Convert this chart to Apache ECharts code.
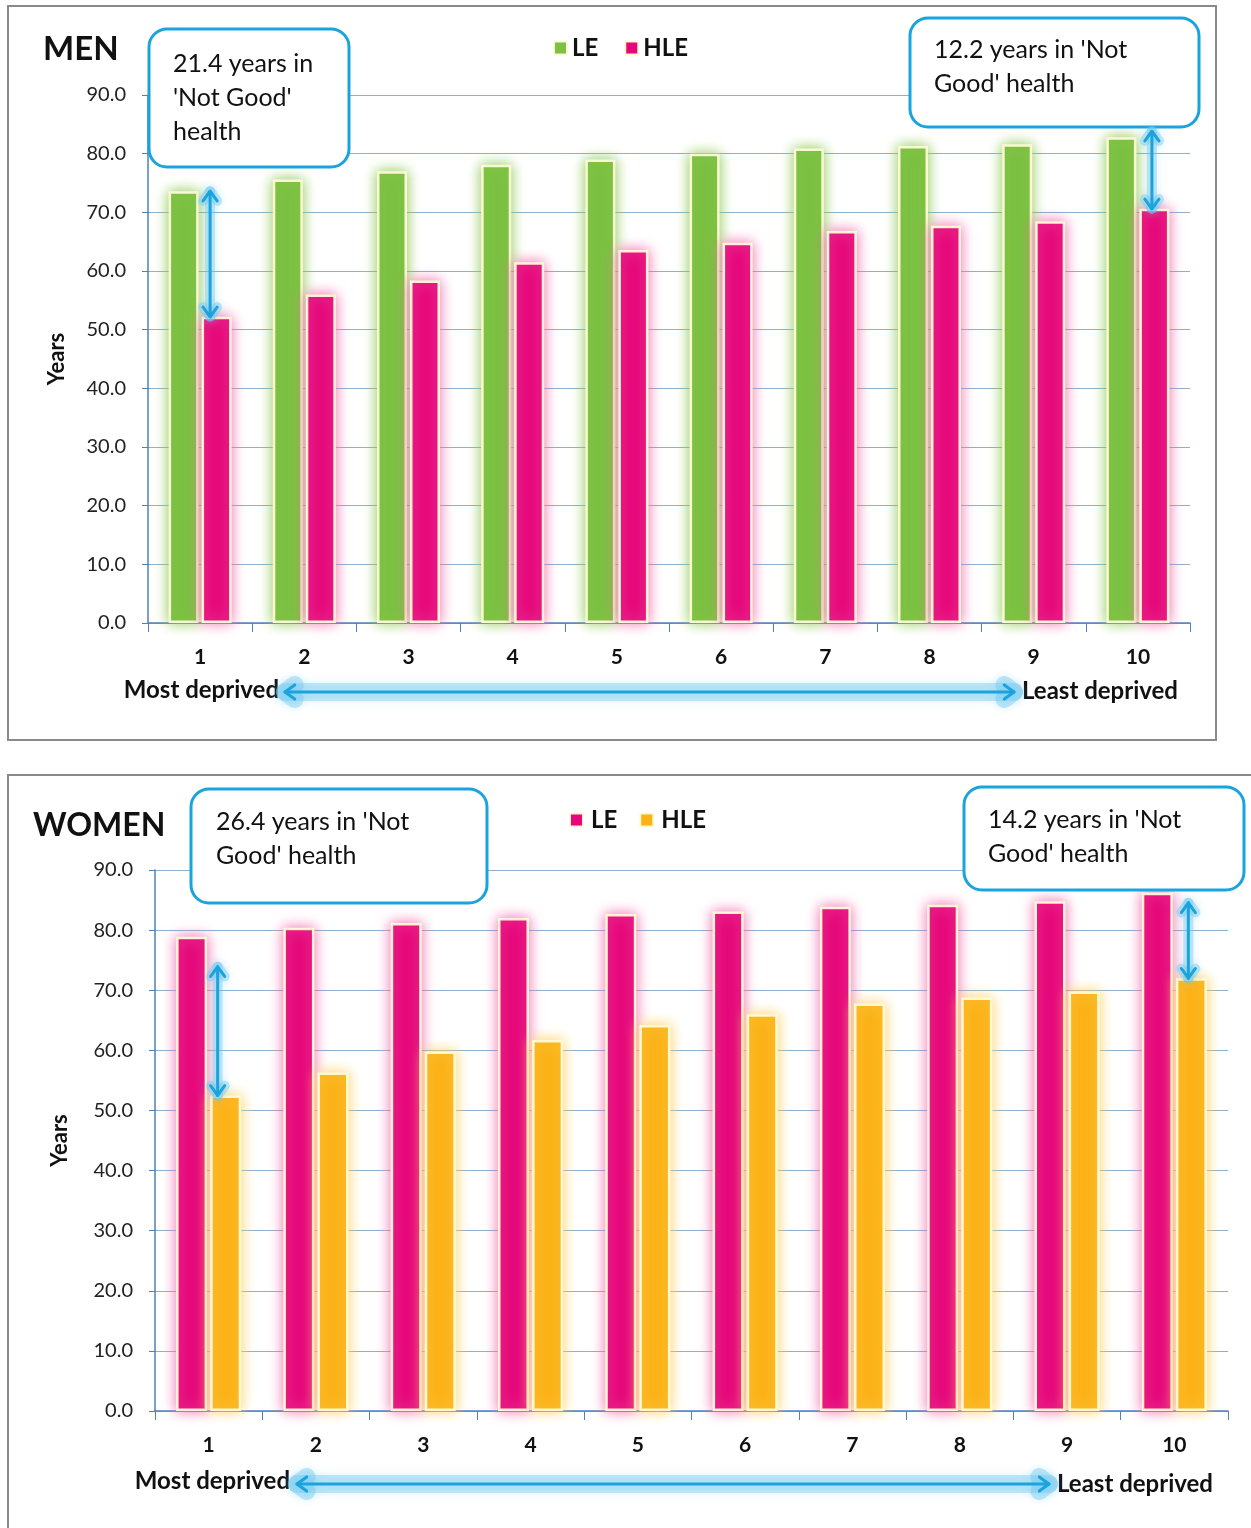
<!DOCTYPE html>
<html>
<head>
<meta charset="utf-8">
<script src="https://cdn.jsdelivr.net/npm/echarts@6/dist/echarts.min.js"></script>
<style>
  html, body { margin: 0; padding: 0; background: #fff; }
  #men { position: absolute; left: 0; top: 0; width: 1251px; height: 760px; }
  #women { position: absolute; left: 0; top: 760px; width: 1251px; height: 768px; }
</style>
</head>
<body>
<div id="men"></div>
<div id="women"></div>
<script>
// deprivation deciles, 1 = most deprived
var deciles = ["1", "2", "3", "4", "5", "6", "7", "8", "9", "10"];
var yTicks = [0, 10, 20, 30, 40, 50, 60, 70, 80, 90];

// men: life expectancy and healthy life expectancy
var menLE = [73.6, 75.6, 77.0, 78.1, 79.0, 80.0, 80.9, 81.3, 81.6, 82.8];
var menHLE = [52.2, 56.0, 58.4, 61.5, 63.6, 64.8, 66.8, 67.7, 68.5, 70.6];

// women
var womenLE = [78.9, 80.4, 81.2, 82.0, 82.7, 83.1, 83.9, 84.2, 84.8, 86.2];
var womenHLE = [52.5, 56.3, 59.8, 61.7, 64.2, 66.0, 67.8, 68.8, 69.8, 72.0];

var FONT = "Lato, 'Open Sans', sans-serif";
var GREEN = "#7cc142", PINK = "#e6077a", ORANGE = "#fbb216";
var BLUE = "#1aa3dc";

function barSeries(name, data, color, glow, width) {
  return {
    name: name,
    type: "bar",
    data: data,
    barWidth: width,
    barGap: "10%",
    itemStyle: {
      color: color,
      borderColor: "rgba(255,250,215,0.95)",
      borderWidth: 2.5,
      shadowBlur: 13,
      shadowColor: glow
    }
  };
}

function arrowEls(x1, y1, x2, y2, glowWidth) {
  var els = [];
  var h = 12, a = Math.PI / 5;
  function head(px, py, qx, qy) {
    var ang = Math.atan2(py - qy, px - qx);
    return [
      [px - h * Math.cos(ang - a), py - h * Math.sin(ang - a)],
      [px, py],
      [px - h * Math.cos(ang + a), py - h * Math.sin(ang + a)]
    ];
  }
  var glow = { stroke: "rgba(110,200,240,0.4)", lineWidth: glowWidth, fill: null, lineCap: "round", lineJoin: "round",
    shadowBlur: 8, shadowColor: "rgba(110,200,240,0.6)" };
  var main = { stroke: BLUE, lineWidth: 3, fill: null, lineCap: "round", lineJoin: "round" };
  [glow, main].forEach(function (st) {
    els.push({ type: "line", z: 120, shape: { x1: x1, y1: y1, x2: x2, y2: y2 }, style: st });
    els.push({ type: "polyline", z: 120, shape: { points: head(x2, y2, x1, y1) }, style: st });
    els.push({ type: "polyline", z: 120, shape: { points: head(x1, y1, x2, y2) }, style: st });
  });
  return els;
}

function box(x, y, w, h, text, tx, ty) {
  return [
    { type: "rect", z: 110, shape: { x: x, y: y, width: w, height: h, r: 18 },
      style: { fill: "#fff", stroke: BLUE, lineWidth: 3 } },
    { type: "text", z: 111, style: { text: text, x: tx, y: ty, font: "25px " + FONT, fill: "#111", lineHeight: 34, verticalAlign: "top" } }
  ];
}

function baseOption(cfg) {
  return {
    animation: false,
    backgroundColor: "#fff",
    title: {
      text: cfg.title, left: cfg.titleLeft, top: cfg.titleTop,
      textStyle: { fontFamily: FONT, fontSize: cfg.titleSize, fontWeight: "bold", color: "#111" }
    },
    legend: {
      left: cfg.legendLeft, top: cfg.legendTop,
      itemWidth: 13, itemHeight: 13, itemGap: cfg.legendGap,
      icon: "rect",
      textStyle: { fontFamily: FONT, fontSize: 24, fontWeight: "bold", color: "#111", padding: [0, 0, 0, cfg.legendPad] },
      data: ["LE", "HLE"]
    },
    grid: cfg.grid,
    xAxis: {
      type: "category",
      data: deciles,
      axisLine: { lineStyle: { color: "#4f81bd", width: 1.5 } },
      axisTick: { show: true, length: 9, lineStyle: { color: "#4f81bd" } },
      axisLabel: { margin: 24, fontFamily: FONT, fontSize: 21, fontWeight: "bold", color: "#111" }
    },
    yAxis: {
      type: "value",
      min: yTicks[0], max: yTicks[yTicks.length - 1], interval: 10,
      name: "Years",
      nameLocation: "middle",
      nameGap: cfg.nameGap,
      nameTextStyle: { fontFamily: FONT, fontSize: 22, fontWeight: "bold", color: "#111" },
      axisLine: { show: true, lineStyle: { color: "#4f81bd", width: 1.5 } },
      axisTick: { show: true, length: 6, lineStyle: { color: "#4f81bd" } },
      axisLabel: {
        margin: 22, fontFamily: FONT, fontSize: 20, color: "#222",
        formatter: function (v) { return v.toFixed(1); }
      },
      splitLine: { lineStyle: { color: "#8eb0cc", width: 1.2 } }
    },
    series: cfg.series
  };
}

// ---------- MEN ----------
var menChart = echarts.init(document.getElementById("men"));
menChart.setOption(baseOption({
  title: "MEN", titleLeft: 38, titleTop: 28, titleSize: 33,
  legendLeft: 548, legendTop: 31, legendGap: 26, legendPad: 0,
  grid: { left: 148, right: 61, top: 95, bottom: 137 },
  nameGap: 80,
  series: [
    barSeries("LE", menLE, GREEN, "rgba(140,200,80,1)", 30),
    barSeries("HLE", menHLE, PINK, "rgba(240,110,175,1)", 30)
  ]
}));

var mg = [];
mg.push({ type: "rect", z: 0, silent: true, shape: { x: 8, y: 6, width: 1208, height: 734 },
  style: { fill: null, stroke: "#8a8a8a", lineWidth: 2 } });
mg = mg.concat(box(149, 29, 200, 138, "21.4 years in\n'Not Good'\nhealth", 173, 47));
mg = mg.concat(box(910, 18, 289, 109, "12.2 years in 'Not\nGood' health", 934, 33));
var m1a = menChart.convertToPixel({ xAxisIndex: 0, yAxisIndex: 0 }, [0, menLE[0]]);
var m1b = menChart.convertToPixel({ xAxisIndex: 0, yAxisIndex: 0 }, [0, menHLE[0]]);
mg = mg.concat(arrowEls(m1a[0] + 10, m1a[1], m1b[0] + 10, m1b[1], 10));
var m10a = menChart.convertToPixel({ xAxisIndex: 0, yAxisIndex: 0 }, [9, menLE[9]]);
var m10b = menChart.convertToPixel({ xAxisIndex: 0, yAxisIndex: 0 }, [9, menHLE[9]]);
mg = mg.concat(arrowEls(m10a[0] + 14, m10a[1] - 6, m10b[0] + 14, m10b[1], 10));
mg = mg.concat(arrowEls(285, 692, 1014, 692, 18));
mg.push({ type: "text", z: 111, style: { text: "Most deprived", x: 279, y: 690, align: "right", verticalAlign: "middle",
  font: "bold 24px " + FONT, fill: "#111" } });
mg.push({ type: "text", z: 111, style: { text: "Least deprived", x: 1022, y: 691, align: "left", verticalAlign: "middle",
  font: "bold 24px " + FONT, fill: "#111" } });
menChart.setOption({ graphic: mg });

// ---------- WOMEN ----------
var womenChart = echarts.init(document.getElementById("women"));
womenChart.setOption(baseOption({
  title: "WOMEN", titleLeft: 28, titleTop: 45, titleSize: 32,
  legendLeft: 564, legendTop: 43, legendGap: 22, legendPad: 3,
  grid: { left: 155, right: 23, top: 110, bottom: 117 },
  nameGap: 84,
  series: [
    barSeries("LE", womenLE, PINK, "rgba(240,110,175,1)", 31),
    barSeries("HLE", womenHLE, ORANGE, "rgba(253,210,100,1)", 31)
  ]
}));

var wg = [];
wg.push({ type: "rect", z: 0, silent: true, shape: { x: 8, y: 15, width: 1300, height: 800 },
  style: { fill: null, stroke: "#8a8a8a", lineWidth: 2 } });
wg = wg.concat(box(191, 29, 296, 114, "26.4 years in 'Not\nGood' health", 216, 45));
wg = wg.concat(box(964, 27, 280, 103, "14.2 years in 'Not\nGood' health", 988, 43));
var w1a = womenChart.convertToPixel({ xAxisIndex: 0, yAxisIndex: 0 }, [0, womenLE[0] - 5]);
var w1b = womenChart.convertToPixel({ xAxisIndex: 0, yAxisIndex: 0 }, [0, womenHLE[0]]);
wg = wg.concat(arrowEls(w1a[0] + 9, w1a[1], w1b[0] + 9, w1b[1], 10));
var w10a = womenChart.convertToPixel({ xAxisIndex: 0, yAxisIndex: 0 }, [9, womenLE[9]]);
var w10b = womenChart.convertToPixel({ xAxisIndex: 0, yAxisIndex: 0 }, [9, womenHLE[9]]);
wg = wg.concat(arrowEls(w10a[0] + 14, w10a[1] + 10, w10b[0] + 14, w10b[1], 10));
wg = wg.concat(arrowEls(297, 724, 1049, 724, 18));
wg.push({ type: "text", z: 111, style: { text: "Most deprived", x: 290, y: 721, align: "right", verticalAlign: "middle",
  font: "bold 24px " + FONT, fill: "#111" } });
wg.push({ type: "text", z: 111, style: { text: "Least deprived", x: 1057, y: 724, align: "left", verticalAlign: "middle",
  font: "bold 24px " + FONT, fill: "#111" } });
womenChart.setOption({ graphic: wg });
</script>
</body>
</html>
